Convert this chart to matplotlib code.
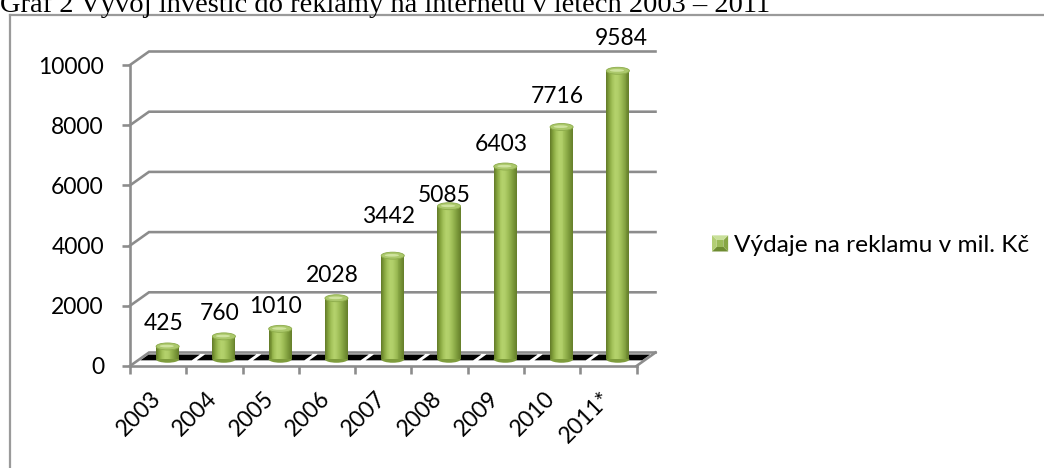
import numpy as np
import matplotlib
matplotlib.use("Agg")
import matplotlib.pyplot as plt
from matplotlib.patches import Ellipse, Polygon, Patch
from matplotlib.lines import Line2D
from matplotlib.transforms import ScaledTranslation, IdentityTransform
from matplotlib.colors import LinearSegmentedColormap
from matplotlib.legend_handler import HandlerBase

# ---------------- data ----------------
categories = ["2003", "2004", "2005", "2006", "2007", "2008", "2009", "2010", "2011*"]
values = [425, 760, 1010, 2028, 3442, 5085, 6403, 7716, 9584]
y_ticks = [0, 2000, 4000, 6000, 8000, 10000]
series_name = "Výdaje na reklamu v mil. Kč"
title_text = "Graf 2 Vývoj investic do reklamy na internetu v letech 2003 – 2011"

# label placement tweaks (pixels) - styling only
label_dx = [5, 5, 5, 5, 5, 5, 5, 5, 13]
label_lift = [23, 23, 23, 23, 39, 11, 22, 31, 33]

plt.rcParams['font.family'] = ['Lato', 'DejaVu Sans']

W, H, DPI = 1044, 468, 100
fig = plt.figure(figsize=(W / DPI, H / DPI), dpi=DPI)
fig.patch.set_facecolor("white")

# front plane of the pseudo-3D plot (pixels from top-left)
L, R, T, B = 130, 636.5, 65, 366
ax = fig.add_axes([L / W, 1 - B / H, (R - L) / W, (B - T) / H])
n = len(categories)
ax.set_xlim(-0.5, n - 0.5)
ax.set_ylim(0, 10000)
ax.patch.set_visible(False)

DX, DY = 19.0, 13.5          # depth offset of back wall (px)
grid_c = "#8C8C8C"
lw = 2.6 * 72 / DPI
ident = IdentityTransform()


def shift(dx, dy):
    return ScaledTranslation(dx / DPI, dy / DPI, fig.dpi_scale_trans)


def P(x, v, f):
    px, py = ax.transData.transform((x, v))
    return (px + DX * f, py + DY * f)


# ---------------- outer frame + title ----------------
fig.add_artist(Line2D([9.5 / W, 9.5 / W], [0, 1 - 14.5 / H], transform=fig.transFigure,
                      color="#9A9A9A", lw=1.6))
fig.add_artist(Line2D([9.5 / W, 1.0], [1 - 14.5 / H, 1 - 14.5 / H], transform=fig.transFigure,
                      color="#9A9A9A", lw=1.6))
fig.text(0.0, 1 - 12 / H, title_text, family=['Liberation Serif', 'DejaVu Serif'],
         fontsize=20.5, ha='left', va='baseline', color='black')

# ---------------- back wall grid ----------------
for v in y_ticks:
    pts = [P(-0.5, v, 0), P(-0.5, v, 1), P(n - 0.5, v, 1)]
    xs, ys = zip(*pts)
    ax.add_line(Line2D(xs, ys, transform=ident, color=grid_c, lw=lw, clip_on=False,
                       zorder=1, solid_joinstyle='miter'))
# floor right edge
xs, ys = zip(P(n - 0.5, 0, 0), P(n - 0.5, 0, 1))
ax.add_line(Line2D(xs, ys, transform=ident, color=grid_c, lw=lw, clip_on=False, zorder=1))

# floor black segments
gap = 2.5
f0, f1 = 0.42, 0.85
for i in range(n):
    a = P(i - 0.5, 0, f0); b = P(i + 0.5, 0, f0)
    c = P(i + 0.5, 0, f1); d = P(i - 0.5, 0, f1)
    poly = [(a[0] + gap, a[1]), (b[0] - gap, b[1]), (c[0] - gap, c[1]), (d[0] + gap, d[1])]
    ax.add_patch(Polygon(poly, closed=True, transform=ident, fc='black', ec='none',
                         clip_on=False, zorder=1.5))

# ---------------- cylinders ----------------
cmap = LinearSegmentedColormap.from_list(
    "cyl", ["#667F2A", "#86A53E", "#A3C25A", "#B3D16B", "#B0CE69", "#A0BF58",
            "#8DAC48", "#789638", "#67812C"])
bw = 0.41
ns = 24
tf_mid = ax.transData + shift(DX * 0.5, DY * 0.5)
px_per_unit = (B - T) / 10000.0
eh = 7.0 / px_per_unit
xpos = np.arange(n)

for i, v in enumerate(values):
    ax.add_patch(Ellipse((xpos[i], 0), bw, eh, transform=tf_mid, fc="#7E9C3C", ec='none',
                         clip_on=False, zorder=2.9))
for j in range(ns):
    off = -bw / 2 + (j + 0.5) * bw / ns
    col = cmap(j / (ns - 1))
    bars = ax.bar(xpos + off, values, width=bw / ns * 1.05, color=col, edgecolor='none',
                  linewidth=0, zorder=3)
    for r in bars:
        r.set_transform(tf_mid)
        r.set_clip_on(False)
for i, v in enumerate(values):
    ax.add_patch(Ellipse((xpos[i], v), bw, eh, transform=tf_mid, fc="#ABC86B", ec="#8CAB4A",
                         lw=0.6, clip_on=False, zorder=3.1))
    ax.add_patch(Ellipse((xpos[i] - bw * 0.04, v + eh * 0.05), bw * 0.62, eh * 0.38,
                         transform=tf_mid, fc="#CFE39E", ec='none', clip_on=False, zorder=3.2))

# ---------------- axes (front) ----------------
for s in ['top', 'right']:
    ax.spines[s].set_visible(False)
for s in ['left', 'bottom']:
    ax.spines[s].set_color(grid_c)
    ax.spines[s].set_linewidth(lw)
    ax.spines[s].set_zorder(4)
ax.set_yticks(y_ticks)
ax.set_yticklabels([str(v) for v in y_ticks])
ax.tick_params(axis='y', direction='out', length=8 * 72 / DPI, width=lw, color=grid_c,
               pad=(122 - 104) * 72 / DPI, labelsize=16.5, labelcolor='black')
ax.set_xticks(np.arange(n + 1) - 0.5)
ax.set_xticklabels([])
ax.tick_params(axis='x', direction='out', length=8 * 72 / DPI, width=lw, color=grid_c)

for i, c in enumerate(categories):
    ax.text(xpos[i], 0, c, transform=ax.transData + shift(4, -34), rotation=45,
            rotation_mode='anchor', ha='right', va='baseline', fontsize=16.5, color='black')

for i, v in enumerate(values):
    ax.text(xpos[i], v, str(v), transform=ax.transData + shift(label_dx[i], label_lift[i]),
            ha='center', va='baseline', fontsize=16.5, color='black', zorder=5)


# ---------------- legend ----------------
class BevelSquare(HandlerBase):
    def create_artists(self, legend, orig_handle, xdescent, ydescent, width, height,
                       fontsize, trans):
        s = min(width, height)
        x0 = -xdescent + (width - s) / 2
        y0 = -ydescent + (height - s) / 2
        k = s * 0.3
        o = [(x0, y0), (x0 + s, y0), (x0 + s, y0 + s), (x0, y0 + s)]
        ii = [(x0 + k, y0 + k), (x0 + s - k, y0 + k), (x0 + s - k, y0 + s - k), (x0 + k, y0 + s - k)]
        cols = ["#6E8C31", "#87A645", "#C9E09A", "#B2CE74"]  # bottom, right, top, left
        arts = []
        for q in range(4):
            pts = [o[q], o[(q + 1) % 4], ii[(q + 1) % 4], ii[q]]
            arts.append(Polygon(pts, closed=True, fc=cols[q], ec='none', transform=trans))
        arts.append(Polygon(ii, closed=True, fc="#9BBB59", ec='none', transform=trans))
        return arts


handle = Patch(facecolor="#9BBB59", label=series_name)
fig.legend(handles=[handle], handler_map={Patch: BevelSquare()}, loc='center left',
           bbox_to_anchor=(712 / W, 1 - 245.5 / H), frameon=False, fontsize=17.6,
           handlelength=0.66, handleheight=0.66, handletextpad=0.22, borderpad=0,
           borderaxespad=0)

fig.savefig("out.png", dpi=DPI, facecolor="white")
